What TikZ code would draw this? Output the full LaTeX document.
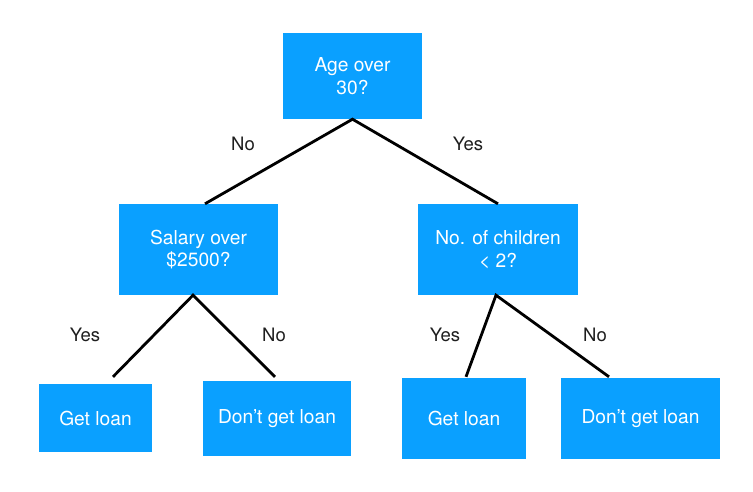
\documentclass[tikz,border=0pt]{standalone}
\usepackage{fontspec}
\setmainfont{TeX Gyre Heros}
\definecolor{boxblue}{RGB}{10,160,255}
\definecolor{labelgray}{RGB}{30,30,30}

\begin{document}
\begin{tikzpicture}[x=1pt,y=-1pt,
    box/.style={fill=boxblue, draw=none, text=white, align=center,
      inner sep=0pt, font=\fontsize{19.2}{22.5}\selectfont},
    lab/.style={text=labelgray, inner sep=0pt, font=\fontsize{18.5}{22}\selectfont},
    edge/.style={draw=black, line width=2.8pt}]
    \useasboundingbox (0,0) rectangle (753,491);
    % decision nodes
    \node [box, minimum width=139pt, minimum height=86pt] (age) at (352.5,76) {Age over\\30?};
    \node [box, minimum width=159pt, minimum height=91pt] (salary) at (198.5,249.5) {Salary over\\\$2500?};
    \node [box, minimum width=160pt, minimum height=91pt] (kids) at (498,249.5) {No. of children\\< 2?};
    % leaves
    \node [box, minimum width=113pt, minimum height=68pt] (getA) at (95.5,418) {Get loan};
    \node [box, minimum width=148pt, minimum height=75pt] (noA) at (277,418.5) {Don’t get loan};
    \node [box, minimum width=124pt, minimum height=81pt] (getB) at (464,418.5) {Get loan};
    \node [box, minimum width=159pt, minimum height=81pt] (noB) at (640.5,418.5) {Don’t get loan};
    % free ends of the lower lines
    \coordinate (endGetA) at ([shift={(17.5,-7)}]getA.north);
    \coordinate (endNoA) at ([shift={(-2,-4)}]noA.north);
    \coordinate (endGetB) at ([shift={(2,-1)}]getB.north);
    \coordinate (endNoB) at ([shift={(-31.5,-1)}]noB.north);
    % connectors
    \draw [edge] ([xshift=6.5pt]salary.north) -- (age.south) -- (kids.north);
    \draw [edge] (endGetA) -- ([xshift=-5.5pt]salary.south) -- (endNoA);
    \draw [edge] (endGetB) -- ([xshift=-2pt]kids.south) -- (endNoB);
    % answers
    \node [lab] (ageNo) at (243,144) {No};
    \node [lab] (ageYes) at (468,144) {Yes};
    \node [lab] (salYes) at (85,335) {Yes};
    \node [lab] (salNo) at (274,335) {No};
    \node [lab] (kidsYes) at (445,335) {Yes};
    \node [lab] (kidsNo) at (595,335) {No};
\end{tikzpicture}
\end{document}
